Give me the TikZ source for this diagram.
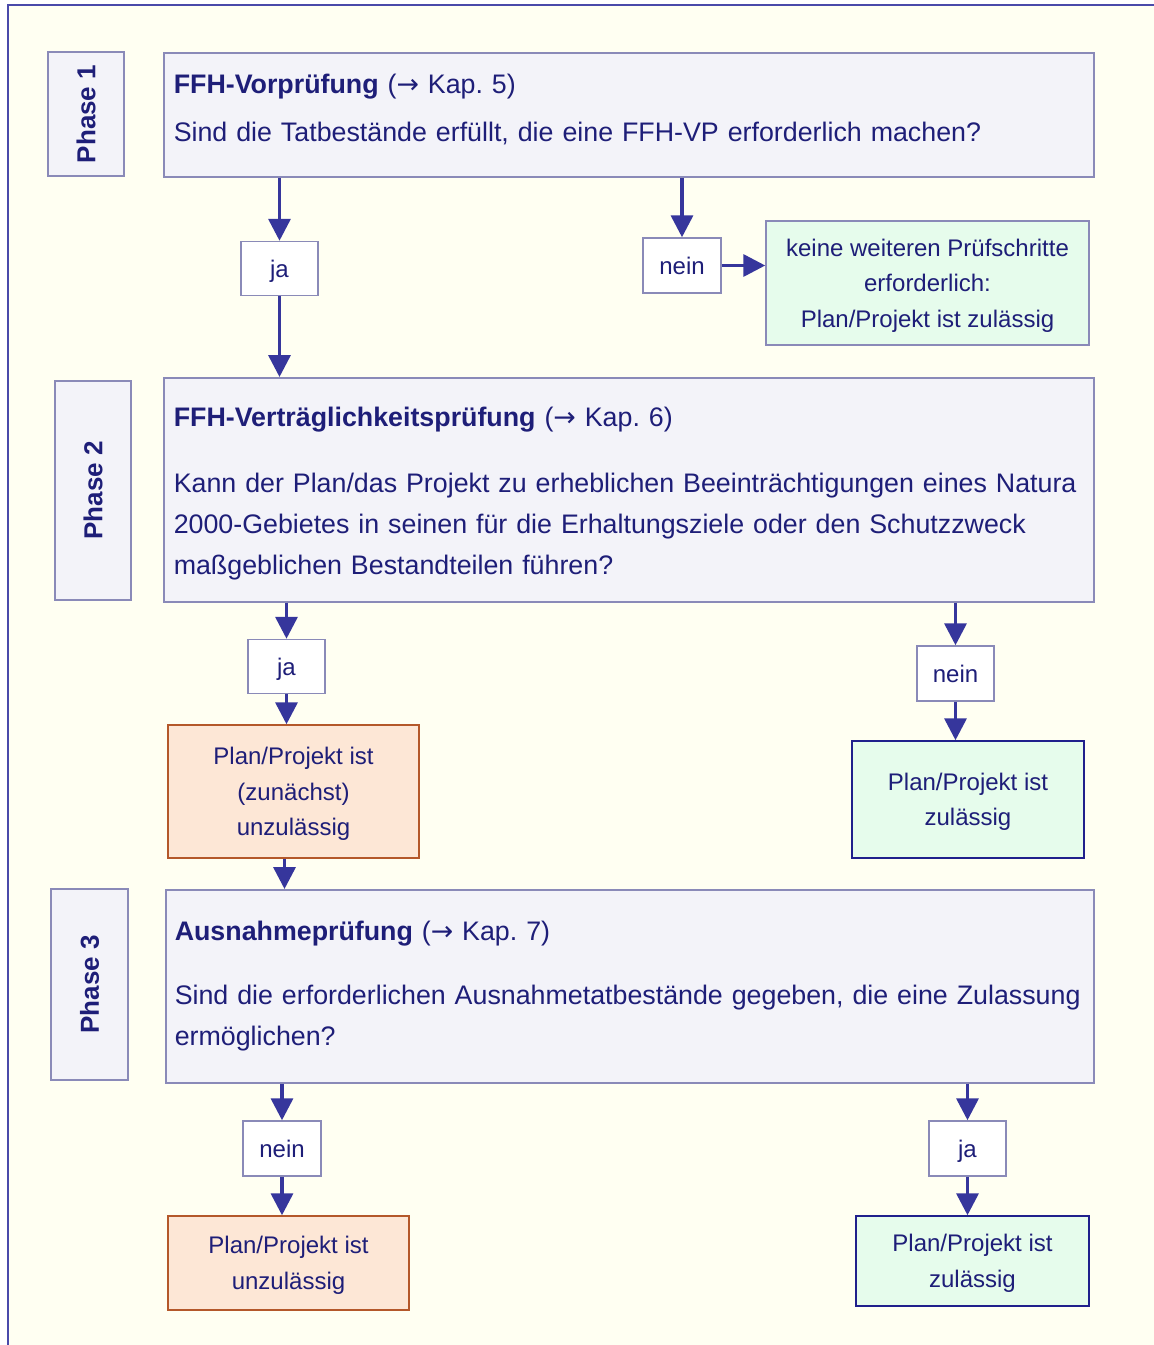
\documentclass[tikz,border=0pt]{standalone}
\usepackage{fontspec}
\setmainfont{Liberation Sans}
\newfontfamily\arrowfont{DejaVu Sans}
\usetikzlibrary{arrows.meta}

\definecolor{paper}{HTML}{FFFFF2}
\definecolor{frame}{HTML}{4A4AAA}
\definecolor{ink}{HTML}{1E1E78}
\definecolor{arrowc}{HTML}{36369C}
\definecolor{boxline}{HTML}{8A8AB8}
\definecolor{boxfill}{HTML}{F3F3F9}
\definecolor{okfill}{HTML}{E6FCEC}
\definecolor{okline}{HTML}{20208C}
\definecolor{nofill}{HTML}{FDE7D6}
\definecolor{noline}{HTML}{B4582A}

\hyphenpenalty=10000
\exhyphenpenalty=10000
\newcommand{\kap}[1]{({\arrowfont →} Kap.\ #1)}

\begin{document}
\begin{tikzpicture}[x=1pt, y=-1pt, every node/.style={text=ink},
    phase/.style={draw=boxline, fill=boxfill, line width=1.5, rotate=90, minimum height=76, font=\fontsize{26}{30}\selectfont\bfseries},
    main/.style={draw=boxline, fill=boxfill, line width=1.5, anchor=north west, inner xsep=10, inner ysep=0, text width=910, align=left, font=\fontsize{26.8}{41}\selectfont},
    answer/.style={draw=boxline, fill=white, line width=1.5, minimum width=77, minimum height=54, text depth=0, font=\fontsize{24}{29}\selectfont},
    okbox/.style={draw=boxline, fill=okfill, line width=1.5, inner sep=0, text depth=0, align=center, font=\fontsize{24}{35.5}\selectfont},
    nobox/.style={draw=noline, fill=nofill, line width=1.5, inner sep=0, text depth=0, align=center, font=\fontsize{24}{35.5}\selectfont},
    arr/.style={draw=arrowc, line width=3.5, -{Triangle[width=22,length=22]}}]

    % page and frame
    \useasboundingbox (0,0) rectangle (1154,1345);
    \fill[white] (0,0) rectangle (1154,1345);
    \filldraw[fill=paper, draw=frame, line width=2.5] (8,5) rectangle (1180,1380);

    % phase 1
    \node[phase, minimum width=124] (ph1) at (86,114) {Phase 1};
    \node[main, text height=41, text depth=83] (vp) at (163,52)
        {\textbf{FFH-Vorprüfung} \kap{5}\\[7pt]
         Sind die Tatbestände erfüllt, die eine FFH-VP erforderlich machen?};
    \node[answer] (ja1) at (279.5,268.5) {ja};
    \node[answer, minimum width=78, minimum height=55] (nein1) at (682,265.5) {nein};
    \node[okbox, minimum width=323, minimum height=124] (ok1) at (927.5,283)
        {keine weiteren Prüfschritte\\ erforderlich:\\ Plan/Projekt ist zulässig};

    % phase 2
    \node[phase, minimum width=219] (ph2) at (93,490.5) {Phase 2};
    \node[main, text height=49, text depth=175] (vtp) at (163,377)
        {\textbf{FFH-Verträglichkeitsprüfung} \kap{6}\\[25pt]
         Kann der Plan/das Projekt zu erheblichen Beeinträchtigungen eines Natura\\
         2000-Gebietes in seinen für die Erhaltungsziele oder den Schutzzweck\\
         maßgeblichen Bestandteilen führen?};
    \node[answer] (ja2) at (286.5,666.5) {ja};
    \node[answer, minimum height=55] (nein2) at (955.5,673.5) {nein};
    \node[nobox, minimum width=251, minimum height=133] (no1) at (293.5,791.5)
        {Plan/Projekt ist\\ (zunächst)\\ unzulässig};
    \node[okbox, draw=okline, minimum width=232, minimum height=117] (ok2) at (968,799.5)
        {Plan/Projekt ist\\ zulässig};

    % phase 3
    \node[phase, minimum width=191, minimum height=77] (ph3) at (89.5,984.5) {Phase 3};
    \node[main, inner xsep=9, text height=51, text depth=142] (ap) at (165,889)
        {\textbf{Ausnahmeprüfung} \kap{7}\\[23pt]
         Sind die erforderlichen Ausnahmetatbestände gegeben, die eine Zulassung\\
         ermöglichen?};
    \node[answer, minimum width=78, minimum height=55] (nein3) at (282,1148.5) {nein};
    \node[answer, minimum height=55] (ja3) at (967.5,1148.5) {ja};
    \node[nobox, minimum width=241, minimum height=94] (no2) at (288.5,1263)
        {Plan/Projekt ist\\ unzulässig};
    \node[okbox, draw=okline, minimum width=233, minimum height=90] (ok3) at (972.5,1261)
        {Plan/Projekt ist\\ zulässig};

    % arrows
    \draw[arr] (ja1 |- vp.south) -- (ja1.north);
    \draw[arr] (ja1.south) -- (ja1 |- vtp.north);
    \draw[arr] (nein1 |- vp.south) -- (nein1.north);
    \draw[arr] (nein1.east) -- (nein1.east -| ok1.west);
    \draw[arr] (ja2 |- vtp.south) -- (ja2.north);
    \draw[arr] (ja2.south) -- (ja2 |- no1.north);
    \draw[arr] (nein2 |- vtp.south) -- (nein2.north);
    \draw[arr] (nein2.south) -- (nein2 |- ok2.north);
    \draw[arr] ([xshift=-9]no1.south) -- ([xshift=-9]no1.south |- ap.north);
    \draw[arr] (nein3 |- ap.south) -- (nein3.north);
    \draw[arr] (nein3.south) -- (nein3 |- no2.north);
    \draw[arr] (ja3 |- ap.south) -- (ja3.north);
    \draw[arr] (ja3.south) -- (ja3 |- ok3.north);
\end{tikzpicture}
\end{document}
